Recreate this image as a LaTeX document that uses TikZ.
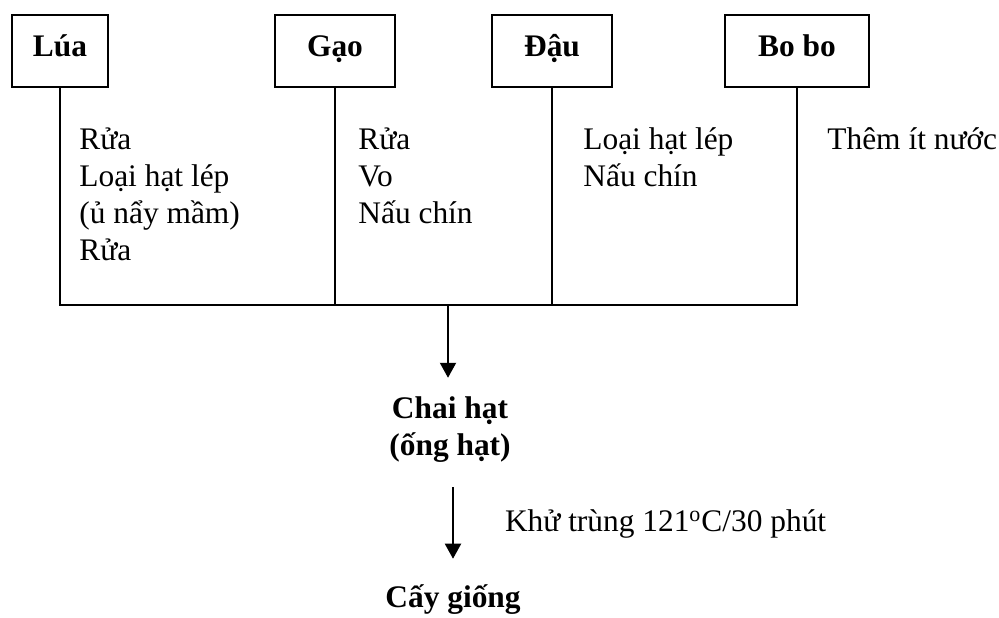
\documentclass[tikz,border=0pt]{standalone}
\usepackage{fontspec}
\setmainfont{Liberation Serif}
\usetikzlibrary{arrows.meta}

\newcommand\diagsize{\fontsize{15.7}{18.5}\selectfont}

\tikzset{
  grain/.style={draw,line width=1pt,minimum height=36pt,inner sep=0pt,
    text height=8.5pt,text depth=3.5pt,font=\diagsize\bfseries},
  steps/.style={align=left,anchor=base west,inner sep=0pt},
  result/.style={align=center,inner xsep=0pt,inner ysep=9.5pt,font=\diagsize\bfseries},
  link/.style={line width=1pt},
  flow/.style={line width=1pt,-{Triangle[width=8pt,length=7.5pt]}}
}

\begin{document}
\begin{tikzpicture}[x=0.5pt,y=-0.5pt,font=\diagsize]
	\useasboundingbox (0,0) rectangle (999,617);
	
	% nguyen lieu
	\node[grain,minimum width=48pt] (lua) at (60,51) {Lúa};
	\node[grain,minimum width=60pt] (gao) at (335,51) {Gạo};
	\node[grain,minimum width=60pt] (dau) at (552,51) {Đậu};
	\node[grain,minimum width=72pt] (bobo) at (797,51) {Bo bo};
	
	% base = dong cuoi
	\node[steps] (lua steps) at (79,260) {Rửa\\Loại hạt lép\\(ủ nẩy mầm)\\Rửa};
	\node[steps] (gao steps) at (358,223) {Rửa\\Vo\\Nấu chín};
	\node[steps] (dau steps) at (583,186) {Loại hạt lép\\Nấu chín};
	\node[steps] (bobo steps) at (827,149) {Thêm ít nước};
	
	% gop lai
	\coordinate (join) at (448,305);
	\draw[link] (lua.south) -- (lua.south |- join) -- (bobo.south |- join) -- (bobo.south);
	\draw[link] (gao.south) -- (gao.south |- join);
	\draw[link] (dau.south) -- (dau.south |- join);
	
	\node[result] (chai) at (450,430) {Chai hạt\\(ống hạt)};
	\node[result] (cay) at (453,600) {Cấy giống};
	
	\draw[flow] (join) -- (join |- chai.north);
	\draw[flow,shorten <=2.5pt,shorten >=3.5pt] (cay.north |- chai.south) -- node[right=25.5pt,inner sep=0pt] {Khử trùng 121\textsuperscript{o}C/30 phút} (cay.north);
	
\end{tikzpicture}
\end{document}
